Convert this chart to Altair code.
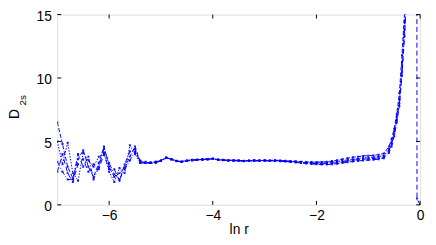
import altair as alt
import pandas as pd

x_vals = [-7.0, -6.9, -6.8, -6.7, -6.6, -6.5, -6.4, -6.3, -6.2, -6.1,
          -6.0, -5.9, -5.8, -5.7, -5.6, -5.5, -5.4, -5.3, -5.2, -5.1,
          -5.0, -4.9, -4.8, -4.7, -4.6, -4.5, -4.4, -4.3, -4.2, -4.1,
          -4.0, -3.9, -3.8, -3.7, -3.6, -3.5, -3.4, -3.3, -3.2, -3.1,
          -3.0, -2.9, -2.8, -2.7, -2.6, -2.5, -2.4, -2.3, -2.2, -2.1,
          -2.0, -1.9, -1.8, -1.7, -1.6, -1.5, -1.4, -1.3, -1.2, -1.1,
          -1.0, -0.9, -0.8, -0.7, -0.6,
          -0.55, -0.5, -0.45, -0.4, -0.35, -0.3, -0.25]

series_a = [6.5, 4.8, 3.0, 2.1, 3.6, 4.3, 3.0, 2.2, 3.3, 4.6,
            3.0, 2.2, 2.5, 2.9, 3.8, 4.6, 3.4, 3.3, 3.3, 3.4,
            3.5, 3.75, 3.6, 3.45, 3.4, 3.5, 3.55, 3.55, 3.6, 3.62,
            3.66, 3.57, 3.55, 3.52, 3.52, 3.5, 3.47, 3.5, 3.52, 3.5,
            3.52, 3.5, 3.52, 3.5, 3.47, 3.45, 3.43, 3.4, 3.38, 3.37,
            3.37, 3.38, 3.4, 3.45, 3.52, 3.6, 3.68, 3.75, 3.8, 3.85,
            3.88, 3.9, 3.95, 4.05, 4.6,
            5.2, 6.0, 7.2, 8.8, 11.8, 15.2, 19.5]

series_b = [5.0, 3.2, 4.9, 2.5, 1.9, 4.1, 3.5, 3.0, 3.8, 4.1,
            2.6, 1.8, 2.9, 2.5, 4.7, 4.0, 3.3, 3.4, 3.3, 3.3,
            3.5, 3.72, 3.62, 3.47, 3.42, 3.48, 3.53, 3.56, 3.58, 3.6,
            3.64, 3.56, 3.54, 3.5, 3.5, 3.49, 3.46, 3.48, 3.5, 3.49,
            3.5, 3.49, 3.5, 3.48, 3.45, 3.42, 3.4, 3.36, 3.33, 3.31,
            3.3, 3.3, 3.32, 3.36, 3.42, 3.48, 3.55, 3.6, 3.65, 3.7,
            3.73, 3.76, 3.8, 3.9, 4.4,
            4.95, 5.8, 6.9, 8.3, 11.0, 14.4, 18.5]

series_c = [3.4, 2.6, 2.0, 2.0, 4.0, 3.0, 3.8, 2.0, 3.0, 4.4,
            3.3, 2.4, 2.0, 2.8, 3.5, 4.2, 3.5, 3.3, 3.35, 3.4,
            3.48, 3.7, 3.6, 3.46, 3.4, 3.47, 3.52, 3.55, 3.57, 3.6,
            3.63, 3.55, 3.53, 3.5, 3.49, 3.48, 3.45, 3.47, 3.48, 3.48,
            3.48, 3.48, 3.48, 3.46, 3.43, 3.4, 3.37, 3.33, 3.3, 3.27,
            3.25, 3.24, 3.25, 3.28, 3.33, 3.4, 3.46, 3.52, 3.56, 3.6,
            3.63, 3.66, 3.7, 3.78, 4.25,
            4.8, 5.6, 6.7, 8.0, 10.5, 13.8, 17.8]

series_d = [2.6, 4.0, 2.5, 1.8, 3.2, 3.6, 2.6, 3.2, 2.8, 4.0,
            2.8, 2.8, 1.9, 3.2, 4.2, 4.4, 3.3, 3.3, 3.3, 3.35,
            3.45, 3.7, 3.58, 3.44, 3.38, 3.46, 3.5, 3.54, 3.56, 3.58,
            3.62, 3.54, 3.52, 3.49, 3.48, 3.47, 3.44, 3.46, 3.47, 3.47,
            3.47, 3.46, 3.46, 3.44, 3.41, 3.38, 3.34, 3.3, 3.26, 3.22,
            3.2, 3.18, 3.18, 3.2, 3.24, 3.3, 3.36, 3.42, 3.46, 3.5,
            3.53, 3.56, 3.6, 3.68, 4.1,
            4.6, 5.4, 6.5, 7.8, 10.2, 13.3, 17.0]

drop_x = [-0.065, -0.06, 0.0]
drop_y = [40.0, 0.5, 0.0]

x_ticks = [-6, -4, -2, 0]
y_ticks = [0, 5, 10, 15]

rows = []
for name, ys in [("a", series_a), ("b", series_b), ("c", series_c), ("d", series_d)]:
    for xv, yv in zip(x_vals, ys):
        rows.append({"x": xv, "y": yv, "s": name})
for xv, yv in zip(drop_x, drop_y):
    rows.append({"x": xv, "y": yv, "s": "d"})
df = pd.DataFrame(rows)

W, H = 368, 193
FONT = "Liberation Sans"

xs = alt.Scale(domain=[-7, 0], nice=False, zero=False)
ys = alt.Scale(domain=[0, 15], nice=False)

dash = alt.StrokeDash("s:N", legend=None,
                      scale=alt.Scale(domain=["a", "b", "c", "d"],
                                      range=[[4, 2], [1.5, 1.5], [5, 2, 1, 2], [5, 3]]))

base = alt.Chart(df)
lines = base.mark_line(clip=True, color="#0000ff", strokeWidth=1).encode(
    x=alt.X("x:Q", scale=xs,
            axis=alt.Axis(values=x_ticks, format="d", ticks=False, domain=False, grid=False,
                          labelFlush=False,
                          labelFont=FONT, labelFontSize=14, labelColor="black",
                          labelPadding=4, titleFont=FONT, titleFontSize=14,
                          titleFontWeight="normal", titleColor="black", titlePadding=0),
            title="ln r"),
    y=alt.Y("y:Q", scale=ys,
            axis=alt.Axis(values=y_ticks, format="d", ticks=False, domain=False, grid=False,
                          labelFont=FONT, labelFontSize=14, labelColor="black",
                          labelPadding=6, labelOffset=2),
            title=""),
    detail="s:N",
    strokeDash=dash,
)
points = base.mark_point(clip=True, shape="square", filled=True, size=4,
                         color="#0000ff", opacity=0.9).encode(
    x=alt.X("x:Q", scale=xs), y=alt.Y("y:Q", scale=ys))

tx = pd.DataFrame({"t": x_ticks})
ty = pd.DataFrame({"t": y_ticks})
tick_style = dict(color="black", strokeWidth=1)
bt = alt.Chart(tx).mark_rule(**tick_style).encode(
    x=alt.X("t:Q", scale=xs), y=alt.value(H), y2=alt.value(H - 4))
tt = alt.Chart(tx).mark_rule(**tick_style).encode(
    x=alt.X("t:Q", scale=xs), y=alt.value(0), y2=alt.value(4))
lt = alt.Chart(ty).mark_rule(**tick_style).encode(
    y=alt.Y("t:Q", scale=ys), x=alt.value(0), x2=alt.value(4))
rt = alt.Chart(ty).mark_rule(**tick_style).encode(
    y=alt.Y("t:Q", scale=ys), x=alt.value(W), x2=alt.value(W - 4))

d_txt = alt.Chart(pd.DataFrame({"t": ["D"]})).mark_text(
    angle=270, font=FONT, fontSize=14, color="black", align="center", baseline="middle"
).encode(text="t:N", x=alt.value(-43), y=alt.value(101))
s_txt = alt.Chart(pd.DataFrame({"t": ["2s"]})).mark_text(
    angle=270, font=FONT, fontSize=10, color="black", align="center", baseline="middle"
).encode(text="t:N", x=alt.value(-35), y=alt.value(87))

chart = alt.layer(lines, points, bt, tt, lt, rt, d_txt, s_txt).properties(
    width=W, height=H,
    autosize=alt.AutoSizeParams(type="none"),
    padding={"left": 50, "top": 5, "right": 8, "bottom": 33},
).configure_view(stroke="#222222", strokeWidth=1).configure(background="white")

chart.save("out.html", embed_options={"renderer": "svg", "actions": False})
